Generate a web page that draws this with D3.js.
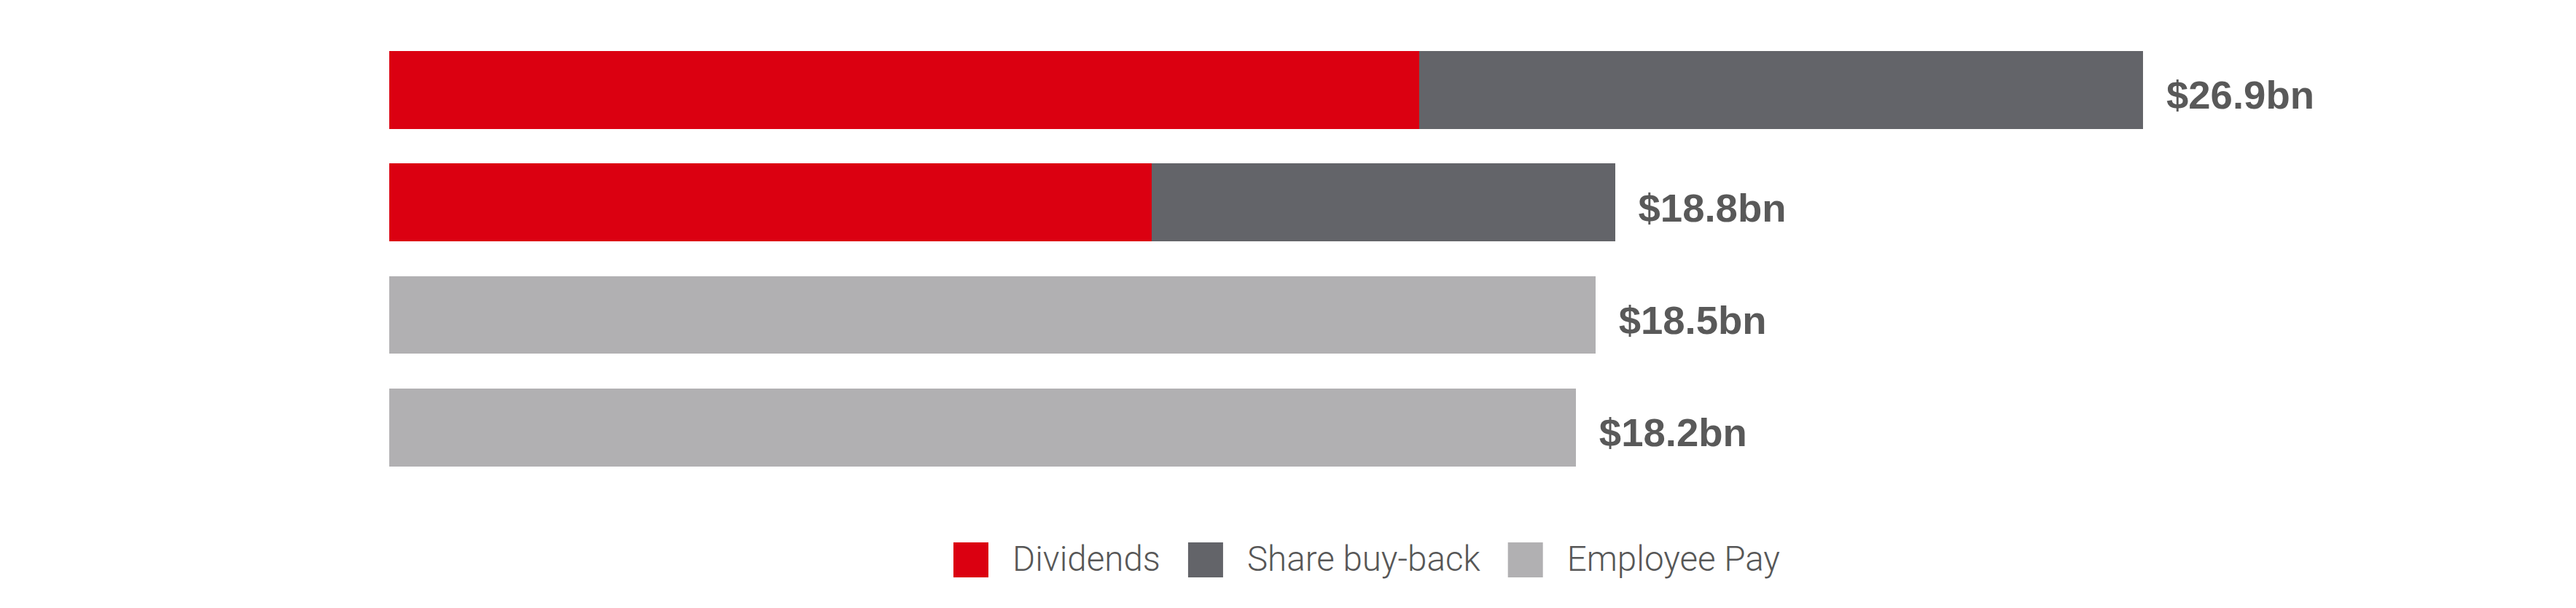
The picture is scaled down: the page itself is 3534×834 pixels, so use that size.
<!DOCTYPE html>
<html>
<head>
<meta charset="utf-8">
<script src="https://cdn.jsdelivr.net/npm/d3@7"></script>
<style>
  html, body { margin: 0; padding: 0; background: #fff; }
  svg { display: block; }
</style>
</head>
<body>
<svg id="chart" width="3534" height="834"></svg>
<script>
// ---- data ----
const rows = ["Row 1", "Row 2", "Row 3", "Row 4"];
const dividends = [15.8, 11.7, 0, 0];
const shareBuyback = [11.1, 7.1, 0, 0];
const employeePay = [0, 0, 18.5, 18.2];
const totalLabels = ["$26.9bn", "$18.8bn", "$18.5bn", "$18.2bn"];
const seriesNames = ["Dividends", "Share buy-back", "Employee Pay"];
const seriesColors = ["#DB0011", "#636469", "#B1B0B2"];

// ---- layout ----
const svg = d3.select("#chart");
const x = d3.scaleLinear().domain([0, 26.9]).range([534, 2940]);
const y = d3.scaleBand().domain(rows).range([70, 639.7]).paddingInner(0.309).paddingOuter(0);

const table = rows.map((r, i) => ({
  row: r,
  "Dividends": dividends[i],
  "Share buy-back": shareBuyback[i],
  "Employee Pay": employeePay[i]
}));
const stack = d3.stack().keys(seriesNames)(table);
const color = d3.scaleOrdinal().domain(seriesNames).range(seriesColors);

svg.append("g").selectAll("g")
  .data(stack).join("g")
  .attr("fill", d => color(d.key))
  .selectAll("rect")
  .data(d => d.filter(s => s[1] - s[0] > 0))
  .join("rect")
  .attr("x", d => x(d[0]))
  .attr("width", d => x(d[1]) - x(d[0]))
  .attr("y", d => y(d.data.row))
  .attr("height", y.bandwidth())
  .attr("shape-rendering", "crispEdges");

// total labels
svg.append("g").selectAll("text")
  .data(table).join("text")
  .attr("x", (d, i) => x(dividends[i] + shareBuyback[i] + employeePay[i]) + 32)
  .attr("y", d => y(d.row) + y.bandwidth() / 2 + 26)
  .attr("font-family", "'Liberation Sans', Arial, Helvetica, sans-serif")
  .attr("font-weight", "bold")
  .attr("font-size", 54.5)
  .attr("fill", "#595959")
  .text((d, i) => totalLabels[i]);

// legend
const legend = svg.append("g");
const sw = 48, gapText = 33, gapItem = 38;
const targetW = 203; // width of "Dividends" in reference
let fs = 43;
const probe = legend.append("text")
  .attr("font-family", "Roboto, 'Liberation Sans', sans-serif")
  .attr("font-weight", 300).attr("font-size", fs).text("Dividends");
const w0 = probe.node().getComputedTextLength();
probe.remove();
if (w0 > 0) fs = fs * targetW / w0;

let cx = 1308;
seriesNames.forEach((name, i) => {
  legend.append("rect")
    .attr("x", cx).attr("y", 744).attr("width", sw).attr("height", sw)
    .attr("fill", seriesColors[i]);
  const t = legend.append("text")
    .attr("x", cx + sw + gapText).attr("y", 783)
    .attr("font-family", "Roboto, 'Liberation Sans', sans-serif")
    .attr("font-weight", 300)
    .attr("font-size", fs)
    .attr("fill", "#575757")
    .text(name);
  cx = cx + sw + gapText + t.node().getComputedTextLength() + gapItem;
});
</script>
</body>
</html>
